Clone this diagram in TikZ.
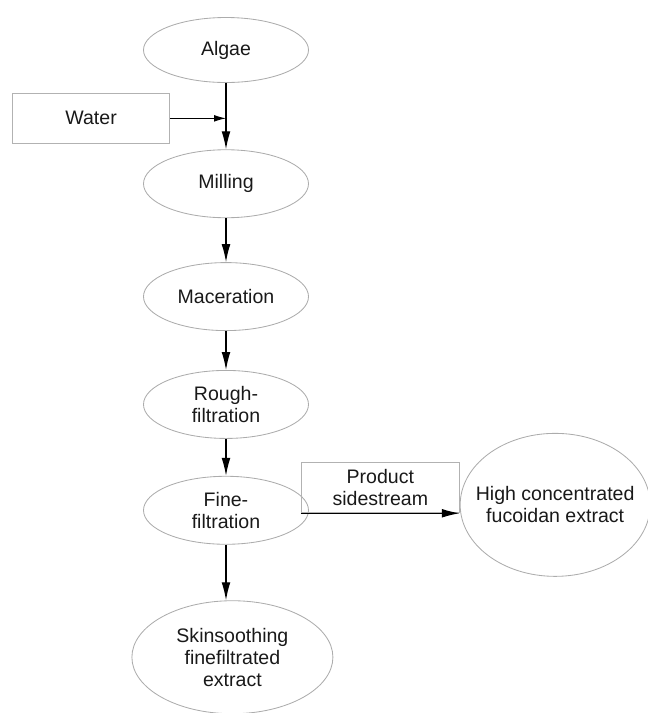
\documentclass[tikz,border=0pt]{standalone}
\usepackage{fontspec}
\setmainfont{Liberation Sans}
\usetikzlibrary{arrows.meta, positioning, shapes.geometric}

\begin{document}
\begin{tikzpicture}[
    proc/.style={ellipse, draw=gray!65, line width=0.6pt, minimum width=4.125cm, minimum height=1.7cm, inner sep=0pt, align=center, text=black!90, font=\fontsize{13.9pt}{15.5pt}\selectfont},
    io/.style={rectangle, draw=gray!60, line width=0.6pt, minimum width=3.95cm, minimum height=1.25cm, inner sep=0pt, align=center, text=black!90, font=\fontsize{13.9pt}{15.5pt}\selectfont},
    arrow/.style={-{Latex[length=0.45cm, width=0.22cm]}, line width=0.9pt},
    smallarrow/.style={-{Latex[length=0.3cm, width=0.17cm]}, line width=0.7pt},
    node distance=1cm
  ]
    \useasboundingbox (0,0) rectangle (16.2,-17.825);

    % Main line
    \node[proc, minimum height=1.625cm] (algae) at (5.65,-1.25) {Algae};
    \node[proc, below=1.66cm of algae] (milling) {Milling};
    \node[proc, below=1.1cm of milling] (maceration) {Maceration};
    \node[proc, below=0.975cm of maceration] (rough) {Rough-\\filtration};
    \node[proc, below=0.925cm of rough] (fine) {Fine-\\filtration};
    \node[proc, below=1.39cm of fine, xshift=0.16cm, minimum width=5.025cm, minimum height=2.825cm] (skin)
      {Skinsoothing\\finefiltrated\\extract};

    % Input
    \node[io, minimum width=3.925cm, below left=0.25cm and 1.4cm of algae.south] (water) {Water};

    % Side stream
    \node[io, above right=-0.075cm and -0.2cm of fine.east] (side) {Product\\sidestream};
    \node[proc, inner xsep=-0.32cm, minimum width=4.75cm, minimum height=3.575cm, right=0cm of side.east, yshift=-0.425cm] (high)
      {High concentrated\\fucoidan extract};

    % Arrows
    \draw[arrow] (algae) -- (milling);
    \draw[smallarrow] (water.east) -- (water.east -| algae.south);
    \draw[arrow] (milling) -- (maceration);
    \draw[arrow] (maceration) -- (rough);
    \draw[arrow] (rough) -- (fine);
    \draw[arrow] (fine.south) -- (fine.south |- skin.north);
    \draw[arrow] (side.south west) -- (side.south -| high.west);
\end{tikzpicture}
\end{document}
